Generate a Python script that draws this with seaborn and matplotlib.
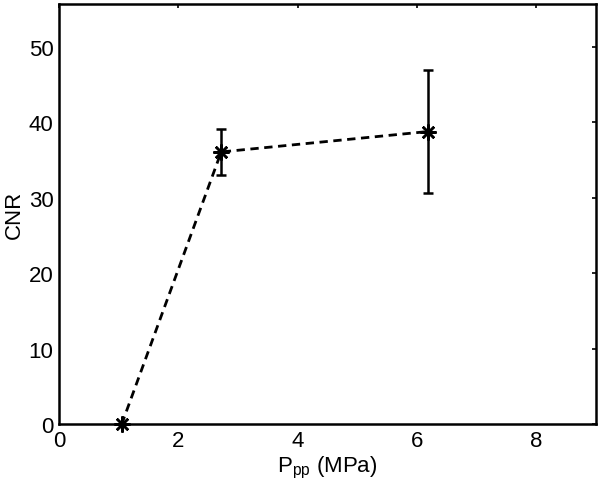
import numpy as np
import pandas as pd
import matplotlib
matplotlib.use("Agg")
import matplotlib.pyplot as plt
import seaborn as sns

# Data
ppp_mpa = [1.05, 2.72, 6.18]
cnr = [0.0, 36.1, 38.8]
cnr_low = [np.nan, 33.1, 30.7]
cnr_high = [np.nan, 39.1, 46.9]
x_ticks = [0, 2, 4, 6, 8]
y_ticks = [0, 10, 20, 30, 40, 50]

sns.set_style("white")
plt.rcParams["font.family"] = ["Liberation Sans", "DejaVu Sans"]
plt.rcParams["mathtext.fontset"] = "custom"
plt.rcParams["mathtext.rm"] = "Liberation Sans"
plt.rcParams["mathtext.it"] = "Liberation Sans"
plt.rcParams["text.color"] = "black"
plt.rcParams["axes.labelcolor"] = "black"
plt.rcParams["xtick.color"] = "black"
plt.rcParams["ytick.color"] = "black"

fig = plt.figure(figsize=(6.0, 4.89), dpi=100)
ax = fig.add_axes([0.0983, 0.13, 0.8947, 0.8598])

df = pd.DataFrame({"x": ppp_mpa, "y": cnr})
sns.lineplot(data=df, x="x", y="y", ax=ax, color="black",
             linewidth=2.0, marker=(8, 2, 0), markersize=11.5,
             markeredgewidth=1.8, markeredgecolor="black", dashes=(3, 2),
             clip_on=False, zorder=5)

low = np.array(cnr_low)
high = np.array(cnr_high)
yv = np.array(cnr)
ax.errorbar(ppp_mpa, cnr, yerr=[yv - low, high - yv], fmt="none",
            ecolor="black", elinewidth=1.8, capsize=3.5, capthick=1.8)

ax.set_xlim(0, 9)
ax.set_ylim(0, 55.7)
ax.set_xticks(x_ticks)
ax.set_yticks(y_ticks)
ax.tick_params(direction="in", length=3, width=1.2, top=True, right=True,
               labelsize=16, pad=4, colors="black")
for s in ax.spines.values():
    s.set_linewidth(1.8)
    s.set_color("black")
ax.set_xlabel(r"P$_{\mathrm{pp}}$ (MPa)", fontsize=16, labelpad=2)
ax.set_ylabel("CNR", fontsize=16, labelpad=3)

fig.savefig("out.png", dpi=100)
